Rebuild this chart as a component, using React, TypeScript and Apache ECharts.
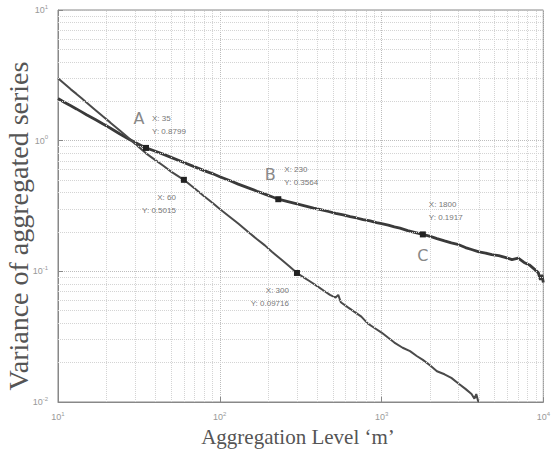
import React, { useEffect, useRef } from "react";
import * as echarts from "echarts";

// Aggregation level m (x) and variance of aggregated series (y)
const upperX = [10, 11, 12, 13, 14, 15, 17, 19, 21, 24, 27, 30, 35, 40, 45, 50, 60, 70, 80, 90, 100, 115, 130, 150, 170, 190, 210, 230, 260, 300, 340, 380, 420, 470, 520, 580, 640, 700, 770, 850, 930, 1000, 1100, 1200, 1300, 1450, 1600, 1800, 2000, 2200, 2450, 2700, 3000, 3300, 3600, 4000, 4400, 4800, 5300, 5800, 6400, 7000, 7600, 8200, 8800, 9300, 9600, 9800, 10000];
const upperY = [2.1, 1.96, 1.85, 1.75, 1.66, 1.58, 1.45, 1.34, 1.25, 1.13, 1.04, 0.97, 0.8799, 0.83, 0.785, 0.745, 0.68, 0.63, 0.59, 0.56, 0.53, 0.495, 0.465, 0.435, 0.41, 0.39, 0.372, 0.3564, 0.343, 0.328, 0.316, 0.305, 0.297, 0.287, 0.278, 0.27, 0.262, 0.256, 0.249, 0.243, 0.236, 0.232, 0.226, 0.219, 0.214, 0.205, 0.199, 0.1917, 0.185, 0.178, 0.171, 0.165, 0.16, 0.152, 0.147, 0.141, 0.138, 0.134, 0.132, 0.128, 0.123, 0.126, 0.117, 0.112, 0.104, 0.098, 0.086, 0.094, 0.082];

const lowerX = [10, 11, 12, 13, 14, 15, 17, 19, 21, 24, 27, 30, 35, 40, 45, 50, 60, 70, 80, 90, 100, 115, 130, 150, 170, 190, 210, 240, 270, 300, 330, 360, 400, 440, 480, 520, 540, 560, 620, 680, 750, 820, 900, 1000, 1100, 1200, 1350, 1500, 1650, 1800, 2000, 2200, 2450, 2700, 3000, 3300, 3600, 3750, 3850, 3950, 4000];
const lowerY = [3.0, 2.71, 2.47, 2.28, 2.11, 1.96, 1.72, 1.53, 1.38, 1.2, 1.06, 0.945, 0.8, 0.71, 0.64, 0.58, 0.5015, 0.43, 0.375, 0.335, 0.3, 0.262, 0.232, 0.2, 0.176, 0.158, 0.141, 0.123, 0.109, 0.09716, 0.09, 0.084, 0.077, 0.071, 0.066, 0.063, 0.066, 0.058, 0.053, 0.049, 0.045, 0.04, 0.037, 0.034, 0.031, 0.0285, 0.026, 0.0245, 0.0225, 0.021, 0.019, 0.0172, 0.0163, 0.0153, 0.0138, 0.0126, 0.0115, 0.0106, 0.0115, 0.0102, 0.01];

// Data tips
const upperTipX = [35, 230, 1800];
const upperTipY = [0.8799, 0.3564, 0.1917];
const upperTipNames = ["A", "B", "C"];
const lowerTipX = [60, 300];
const lowerTipY = [0.5015, 0.09716];

// Minor grid values
const minorX = [20, 30, 40, 50, 60, 70, 80, 90, 200, 300, 400, 500, 600, 700, 800, 900, 2000, 3000, 4000, 5000, 6000, 7000, 8000, 9000];
const minorY = [0.02, 0.03, 0.04, 0.05, 0.06, 0.07, 0.08, 0.09, 0.2, 0.3, 0.4, 0.5, 0.6, 0.7, 0.8, 0.9, 2, 3, 4, 5, 6, 7, 8, 9];

const tipFont = { fontFamily: "Liberation Sans", fontSize: 8, color: "#777" };
const letterFont = { fontFamily: "DejaVu Sans", fontSize: 16, color: "#888" };

function tipItems(xs: number[], ys: number[], side: "above" | "below") {
  const items: any[] = [];
  xs.forEach((x, i) => {
    const y = ys[i];
    items.push({
      coord: [x, y],
      symbol: "rect",
      symbolSize: 6,
      itemStyle: { color: "#222" },
      label: {
        show: true,
        position: "inside",
        formatter: `X: ${x}\nY: ${y}`,
        ...tipFont,
        lineHeight: 13,
        align: side === "above" ? "left" : "right",
        verticalAlign: "middle",
        offset: side === "above" ? [6, -23] : [-8, 24],
      },
    });
  });
  return items;
}

function letterItems(xs: number[], ys: number[], names: string[]) {
  const offs = [[-7, -29], [-8, -25], [0, 21]];
  return xs.map((x, i) => ({
    coord: [x, ys[i]],
    symbol: "rect",
    symbolSize: 0,
    label: {
      show: true,
      position: "inside",
      formatter: names[i],
      ...letterFont,
      align: "center",
      verticalAlign: "middle",
      offset: offs[i],
    },
  }));
}

const expLabel = (v: number) => {
  const e = Math.round(Math.log10(v));
  return `{b|10}{s|${e}}`;
};

const rich = {
  b: { fontSize: 9, color: "#999", fontFamily: "Liberation Sans", lineHeight: 14 },
  s: { fontSize: 6, color: "#999", fontFamily: "Liberation Sans", padding: [0, 0, 7, 0] },
};

export default function App() {
  const ref = useRef<HTMLDivElement>(null);
  useEffect(() => {
    const chart = echarts.init(ref.current!, null, { renderer: "svg" });
    const option: any = {
      animation: false,
      backgroundColor: "#fff",
      grid: { left: 58, right: 8, top: 10, bottom: 68, show: true, borderColor: "#888", borderWidth: 1 },
      xAxis: {
        type: "log",
        logBase: 10,
        min: 10,
        max: 10000,
        axisLine: { lineStyle: { color: "#888" } },
        axisTick: { inside: true, length: 5, lineStyle: { color: "#888" } },
        axisLabel: { formatter: expLabel, rich, margin: 8 },
        splitLine: { show: true, lineStyle: { type: "dotted", color: "#bdbdbd" } },
      },
      yAxis: {
        type: "log",
        logBase: 10,
        min: 0.01,
        max: 10,
        axisLine: { show: true, lineStyle: { color: "#888" } },
        axisTick: { show: true, inside: true, length: 5, lineStyle: { color: "#888" } },
        axisLabel: { formatter: expLabel, rich, margin: 10 },
        splitLine: { show: true, lineStyle: { type: "dotted", color: "#bdbdbd" } },
      },
      graphic: [
        {
          type: "text",
          x: 18,
          y: 226,
          rotation: Math.PI / 2,
          style: {
            text: "Variance of aggregated series",
            font: "28px 'Liberation Serif'",
            fill: "#555",
            textAlign: "center",
            textVerticalAlign: "middle",
          },
        },
        {
          type: "text",
          x: 298,
          y: 437,
          style: {
            text: "Aggregation Level \u2018m\u2019",
            font: "21px 'Liberation Serif'",
            fill: "#555",
            textAlign: "center",
            textVerticalAlign: "middle",
          },
        },
      ],
      series: [
        {
          type: "line",
          data: [],
          z: 1,
          silent: true,
          markLine: {
            silent: true,
            symbol: ["none", "none"],
            label: { show: false },
            lineStyle: { type: "dotted", color: "#d4d4d4", width: 1 },
            data: [...minorX.map((v) => ({ xAxis: v })), ...minorY.map((v) => ({ yAxis: v }))],
          },
        },
        {
          type: "line",
          name: "upper",
          z: 3,
          showSymbol: false,
          data: upperX.map((x, i) => [x, upperY[i]]),
          lineStyle: { color: "#3a3a3a", width: 2.8 },
          markPoint: {
            z: 5,
            data: [...tipItems(upperTipX, upperTipY, "above"), ...letterItems(upperTipX, upperTipY, upperTipNames)],
          },
        },
        {
          type: "line",
          name: "lower",
          z: 3,
          showSymbol: false,
          data: lowerX.map((x, i) => [x, lowerY[i]]),
          lineStyle: { color: "#4a4a4a", width: 2 },
          markPoint: {
            z: 5,
            data: tipItems(lowerTipX, lowerTipY, "below"),
          },
        },
      ],
    };
    chart.setOption(option);
    return () => chart.dispose();
  }, []);
  return <div ref={ref} style={{ width: 553, height: 470, position: "absolute", left: 0, top: 0 }} />;
}
